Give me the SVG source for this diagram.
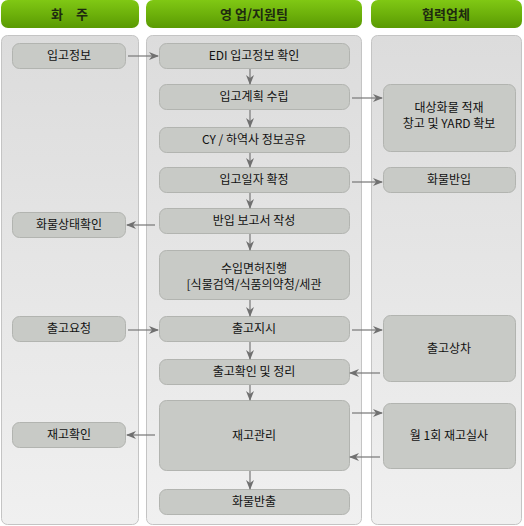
<svg xmlns="http://www.w3.org/2000/svg" width="524" height="526" viewBox="0 0 524 526">
<defs>
<linearGradient id="hg" x1="0" y1="0" x2="0" y2="1"><stop offset="0" stop-color="#80c814"/><stop offset="1" stop-color="#5a9a02"/></linearGradient>
<linearGradient id="pg" x1="0" y1="0" x2="0" y2="1"><stop offset="0" stop-color="#dcdcdc"/><stop offset="1" stop-color="#f0f0f0"/></linearGradient>
<marker id="ah" markerWidth="10" markerHeight="8" refX="9" refY="4" orient="auto" markerUnits="userSpaceOnUse">
<path d="M0,0 L10,4 L0,8 L3,4 Z" fill="#707070"/>
</marker>
<style>
.hdr{fill:url(#hg);}
.hdt{font-family:"Noto Sans CJK KR","DejaVu Sans",sans-serif;font-size:13px;font-weight:bold;fill:#1e2a10;text-anchor:middle;}
.pnl{fill:url(#pg);stroke:#c4c4c4;stroke-width:1;}
.nd{fill:#c8cac6;stroke:#b2b4b0;stroke-width:1;}
.t{font-family:"Noto Sans CJK KR","DejaVu Sans",sans-serif;font-size:12px;fill:#111;text-anchor:middle;}
.c{stroke:#777;stroke-width:1.2;fill:none;marker-end:url(#ah);}
</style>
</defs>
<rect width="524" height="526" fill="#ffffff"/>
<g id="headers">
<rect class="hdr" x="1" y="0" width="138" height="28" rx="7"/>
<text class="hdt" x="57" y="19">화</text>
<text class="hdt" x="82" y="19">주</text>
<rect class="hdr" x="146" y="0" width="216" height="28" rx="7"/>
<text class="hdt" x="254" y="19">영 업/지원팀</text>
<rect class="hdr" x="371" y="0" width="151" height="28" rx="7"/>
<text class="hdt" x="446" y="19">협력업체</text>
</g>
<g id="panels">
<rect class="pnl" x="1.5" y="35.5" width="137" height="489" rx="6"/>
<rect class="pnl" x="146.5" y="35.5" width="215" height="489" rx="6"/>
<rect class="pnl" x="371.5" y="35.5" width="150" height="489" rx="6"/>
</g>
<g id="n1"><rect class="nd" x="12.5" y="43.5" width="113" height="25" rx="7"/><text class="t" x="69" y="60">입고정보</text></g>
<g id="n2"><rect class="nd" x="12.5" y="212.5" width="113" height="25" rx="7"/><text class="t" x="69" y="229">화물상태확인</text></g>
<g id="n3"><rect class="nd" x="12.5" y="316.5" width="113" height="25" rx="7"/><text class="t" x="69" y="333">출고요청</text></g>
<g id="n4"><rect class="nd" x="12.5" y="422.5" width="113" height="25" rx="7"/><text class="t" x="69" y="439">재고확인</text></g>
<g id="m1"><rect class="nd" x="159.5" y="43.5" width="190" height="25" rx="7"/><text class="t" x="254" y="60">EDI 입고정보 확인</text></g>
<g id="m2"><rect class="nd" x="159.5" y="84.5" width="190" height="25" rx="7"/><text class="t" x="254" y="101">입고계획 수립</text></g>
<g id="m3"><rect class="nd" x="159.5" y="127.5" width="190" height="25" rx="7"/><text class="t" x="254" y="144">CY / 하역사 정보공유</text></g>
<g id="m4"><rect class="nd" x="159.5" y="167.5" width="190" height="25" rx="7"/><text class="t" x="254" y="184">입고일자 확정</text></g>
<g id="m5"><rect class="nd" x="159.5" y="208.5" width="190" height="25" rx="7"/><text class="t" x="254" y="225">반입 보고서 작성</text></g>
<g id="m6"><rect class="nd" x="159.5" y="250.5" width="190" height="49" rx="7"/><text class="t" x="254" y="273">수입면허진행</text><text class="t" x="254" y="289">[식물검역/식품의약청/세관</text></g>
<g id="m7"><rect class="nd" x="159.5" y="316.5" width="190" height="25" rx="7"/><text class="t" x="254" y="333">출고지시</text></g>
<g id="m8"><rect class="nd" x="159.5" y="359.5" width="190" height="25" rx="7"/><text class="t" x="254" y="376">출고확인 및 정리</text></g>
<g id="m9"><rect class="nd" x="159.5" y="400.5" width="190" height="70" rx="7"/><text class="t" x="254" y="440">재고관리</text></g>
<g id="m10"><rect class="nd" x="159.5" y="489.5" width="190" height="25" rx="7"/><text class="t" x="254" y="506">화물반출</text></g>
<g id="r1"><rect class="nd" x="383.5" y="84.5" width="132" height="67" rx="7"/><text class="t" x="449" y="112">대상화물 적재</text><text class="t" x="449" y="128">창고 및 YARD 확보</text></g>
<g id="r2"><rect class="nd" x="383.5" y="167.5" width="132" height="25" rx="7"/><text class="t" x="449" y="184">화물반입</text></g>
<g id="r3"><rect class="nd" x="383.5" y="315.5" width="132" height="66" rx="7"/><text class="t" x="449" y="353">출고상차</text></g>
<g id="r4"><rect class="nd" x="383.5" y="403.5" width="132" height="65" rx="7"/><text class="t" x="449" y="440">월 1회 재고실사</text></g>
<g id="connectors">
<line class="c" x1="128" y1="56" x2="158" y2="56"/>
<line class="c" x1="250" y1="69" x2="250" y2="84"/>
<line class="c" x1="250" y1="110" x2="250" y2="127"/>
<line class="c" x1="250" y1="153" x2="250" y2="167"/>
<line class="c" x1="250" y1="193" x2="250" y2="208"/>
<line class="c" x1="250" y1="234" x2="250" y2="250"/>
<line class="c" x1="250" y1="300" x2="250" y2="316"/>
<line class="c" x1="250" y1="342" x2="250" y2="359"/>
<line class="c" x1="250" y1="385" x2="250" y2="400"/>
<line class="c" x1="250" y1="471" x2="250" y2="489"/>
<line class="c" x1="352" y1="98" x2="382" y2="98"/>
<line class="c" x1="352" y1="182" x2="382" y2="182"/>
<line class="c" x1="155" y1="225" x2="127" y2="225"/>
<line class="c" x1="128" y1="330" x2="158" y2="330"/>
<line class="c" x1="352" y1="330" x2="382" y2="330"/>
<line class="c" x1="380" y1="373" x2="350" y2="373"/>
<line class="c" x1="155" y1="435" x2="127" y2="435"/>
<line class="c" x1="352" y1="413" x2="382" y2="413"/>
<line class="c" x1="380" y1="457" x2="350" y2="457"/>
</g>
</svg>
